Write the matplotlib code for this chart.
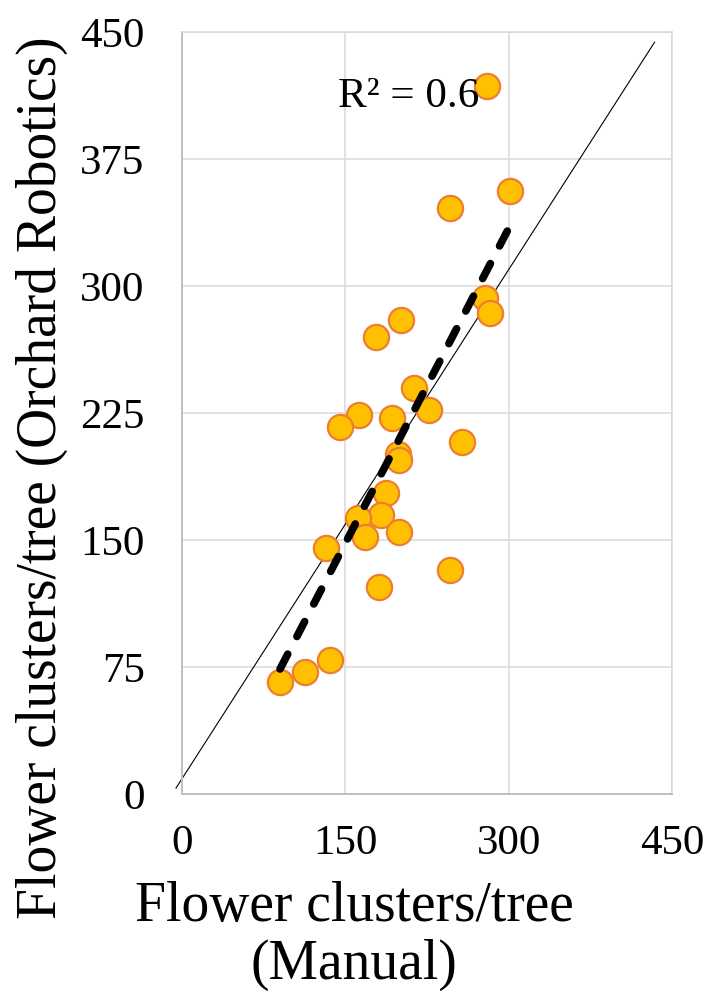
import numpy as np
import matplotlib.pyplot as plt

plt.rcParams['font.family'] = ['Liberation Serif', 'DejaVu Serif']

# Flower clusters per tree, manual count vs Orchard Robotics
manual = [280, 301, 246, 278, 283, 201, 178,
          213, 227, 163, 145, 193, 257, 198, 199, 187, 183, 162, 168, 199,
          132, 246, 181, 136, 113, 90]
robotics = [418, 356, 346, 293, 284, 280, 270,
            240, 227, 224, 217, 222, 208, 201, 197, 178, 165, 163, 152, 155,
            145, 132, 122, 79, 72, 66]

# reference line drawn across the plot
ref_x = [-5.5, 434]
ref_y = [3.5, 444]

x_ticks = [0, 150, 300, 450]
y_ticks = [0, 75, 150, 225, 300, 375, 450]
r2_label = "R² = 0.6"

fig = plt.figure(figsize=(7.09, 9.92), dpi=100)
ax = fig.add_axes([0.2567, 0.1996, 0.6911, 0.7681])

ax.set_xlim(0, 450)
ax.set_ylim(0, 450)
ax.set_xticks(x_ticks)
ax.set_yticks(y_ticks)
ax.grid(True, color='#D9D9D9', linewidth=1.1)
ax.set_axisbelow(True)
ax.tick_params(length=0, labelsize=31, pad=27)
ax.tick_params(axis='x', pad=22)

for side in ['top', 'right']:
    ax.spines[side].set_color('#D9D9D9')
    ax.spines[side].set_linewidth(1.1)
for side in ['left', 'bottom']:
    ax.spines[side].set_color('#BFBFBF')
    ax.spines[side].set_linewidth(1.4)

# thin reference line
ax.plot(ref_x, ref_y, color='black', linewidth=0.8, clip_on=False, zorder=2)

# linear trendline
slope, inter = np.polyfit(manual, robotics, 1)
tx = np.array([min(manual), max(manual)])
ax.plot(tx, slope * tx + inter, color='black', linewidth=5.5,
        dashes=(2.2, 2.6), dash_capstyle='round', zorder=4)

ax.scatter(manual, robotics, s=330, color='#FFC000', edgecolors='#ED7D31',
           linewidths=1.6, zorder=3, clip_on=False)

ax.text(143, 406, r2_label, fontsize=31, ha='left', va='baseline', zorder=5)

fig.text(354 / 709, 1 - 921 / 992, "Flower clusters/tree", fontsize=40,
         ha='center', va='baseline')
fig.text(354 / 709, 1 - 979 / 992, "(Manual)", fontsize=40,
         ha='center', va='baseline')
fig.text(42 / 709, 1 - 478 / 992, "Flower clusters/tree (Orchard Robotics)",
         fontsize=40, ha='center', va='center', rotation=90)

fig.savefig('out.png', dpi=100)
